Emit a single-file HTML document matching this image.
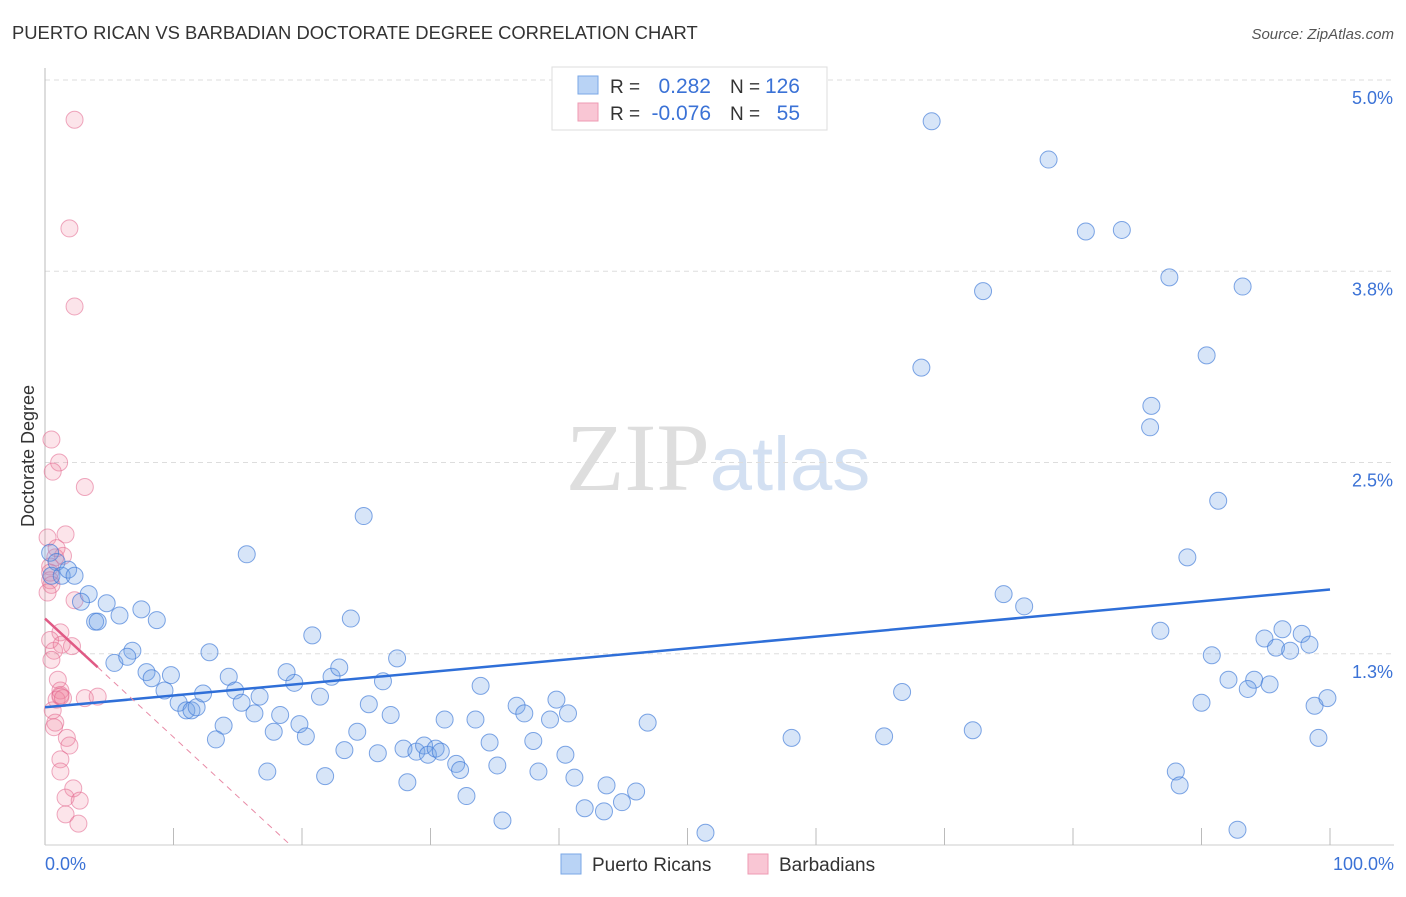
<!DOCTYPE html>
<html><head><meta charset="utf-8"><style>
body{margin:0;background:#fff;font-family:"Liberation Sans",sans-serif;}
svg text{font-family:"Liberation Sans",sans-serif;}
</style></head><body>
<svg id="chart" width="1406" height="892" xmlns="http://www.w3.org/2000/svg">
<text x="12" y="39" font-size="18.4" fill="#333">PUERTO RICAN VS BARBADIAN DOCTORATE DEGREE CORRELATION CHART</text>
<text x="1394" y="39" font-size="15" fill="#555" text-anchor="end" font-style="italic">Source: ZipAtlas.com</text>
<text x="718" y="490" font-size="96" text-anchor="middle" fill="#e4e4e4"><tspan font-family="Liberation Serif" fill="#dedede">ZIP</tspan><tspan fill="#d3e0f2" font-size="76">atlas</tspan></text>
<g id="grid"></g><g id="axes"></g><g id="marks"></g>
<text transform="translate(34,456) rotate(-90)" font-size="18" fill="#333" text-anchor="middle">Doctorate Degree</text>
<g>
<rect x="552" y="67" width="275" height="63" fill="#fff" stroke="#ddd"/>
<rect x="578" y="76" width="20" height="18" fill="#b9d3f5" stroke="#7aa7e6"/>
<rect x="578" y="103" width="20" height="18" fill="#f9c6d4" stroke="#ee9bb3"/>
<text x="610" y="93" font-size="19" fill="#333">R =</text><text x="711" y="93" font-size="21" fill="#3b72d6" text-anchor="end">0.282</text>
<text x="730" y="93" font-size="19" fill="#333">N =</text><text x="800" y="93" font-size="21" fill="#3b72d6" text-anchor="end">126</text>
<text x="610" y="120" font-size="19" fill="#333">R =</text><text x="711" y="120" font-size="21" fill="#3b72d6" text-anchor="end">-0.076</text>
<text x="730" y="120" font-size="19" fill="#333">N =</text><text x="800" y="120" font-size="21" fill="#3b72d6" text-anchor="end">55</text>
</g>
<g>
<rect x="561" y="854" width="20" height="20" fill="#b9d3f5" stroke="#7aa7e6"/>
<text x="592" y="871" font-size="19" fill="#333">Puerto Ricans</text>
<rect x="748" y="854" width="20" height="20" fill="#f9c6d4" stroke="#ee9bb3"/>
<text x="779" y="871" font-size="19" fill="#333">Barbadians</text>
</g>
</svg>
<script>
const yTicks=[1.25,2.5,3.75,5.0];
const yTickLabels=["1.3%","2.5%","3.8%","5.0%"];
const xTickLabels=["0.0%","100.0%"];
const blueX=[69.0,78.1,81.0,83.8,73.0,87.5,93.2,68.2,90.4,86.1,86.0,91.3,88.9,24.8,15.7,74.6,76.2,86.8,90.8,94.9,96.3,97.8,95.8,96.9,98.4,92.1,94.1,93.6,95.3,90.0,98.8,99.8,99.1,66.7,72.2,65.3,58.1,46.9,51.4,92.8,88.0,88.3,
0.4,0.9,0.5,1.3,1.8,2.3,3.4,2.8,4.8,3.9,4.1,5.8,7.5,8.7,6.8,5.4,6.4,7.9,8.3,9.8,9.3,10.4,11.0,11.4,11.8,12.3,12.8,14.3,14.8,16.7,15.3,16.3,13.9,13.3,18.3,17.8,19.8,20.3,19.4,18.8,20.8,22.3,22.9,23.8,21.4,23.3,24.3,25.2,26.3,26.9,27.4,25.9,28.2,27.9,28.9,29.5,29.8,30.4,30.8,31.1,32.0,32.3,32.8,33.5,33.9,34.6,35.2,35.6,36.7,37.3,38.0,38.4,39.3,39.8,40.7,40.5,41.2,42.0,43.5,43.7,44.9,46.0,21.8,17.3];
const blueY=[4.73,4.48,4.01,4.02,3.62,3.71,3.65,3.12,3.20,2.87,2.73,2.25,1.88,2.15,1.90,1.64,1.56,1.40,1.24,1.35,1.41,1.38,1.29,1.27,1.31,1.08,1.08,1.02,1.05,0.93,0.91,0.96,0.70,1.00,0.75,0.71,0.70,0.80,0.08,0.10,0.48,0.39,
1.91,1.85,1.76,1.76,1.80,1.76,1.64,1.59,1.58,1.46,1.46,1.50,1.54,1.47,1.27,1.19,1.23,1.13,1.09,1.11,1.01,0.93,0.88,0.88,0.90,0.99,1.26,1.10,1.01,0.97,0.93,0.86,0.78,0.69,0.85,0.74,0.79,0.71,1.06,1.13,1.37,1.10,1.16,1.48,0.97,0.62,0.74,0.92,1.07,0.85,1.22,0.60,0.41,0.63,0.61,0.65,0.59,0.63,0.61,0.82,0.53,0.49,0.32,0.82,1.04,0.67,0.52,0.16,0.91,0.86,0.68,0.48,0.82,0.95,0.86,0.59,0.44,0.24,0.22,0.39,0.28,0.35,0.45,0.48];
const pinkX=[2.3,1.9,2.3,0.5,1.1,0.6,3.1,1.6,0.2,1.4,0.8,0.4,0.4,0.5,0.2,2.3,1.2,0.4,0.7,2.1,0.5,1.3,1.0,1.2,1.2,0.9,1.2,1.4,0.6,0.8,0.7,3.1,4.1,1.7,1.9,1.2,1.2,2.2,1.6,2.7,1.6,2.6,0.4,0.9];
const pinkY=[4.74,4.03,3.52,2.65,2.50,2.44,2.34,2.03,2.01,1.89,1.88,1.82,1.73,1.70,1.65,1.60,1.39,1.34,1.27,1.30,1.21,1.31,1.08,1.01,0.98,0.95,0.97,0.96,0.88,0.80,0.77,0.96,0.97,0.70,0.65,0.56,0.48,0.37,0.31,0.29,0.20,0.14,1.78,1.94];
const blueTrend=[0.90,1.67];
const pinkTrend=[1.48,-0.0775];
const NS="http://www.w3.org/2000/svg";
const X0=45,X1=1330,Y0=845,YS=153;
function sx(v){return X0+(X1-X0)*v/100;}
function sy(v){return Y0-v*YS;}
function mk(tag,attrs,parent){const e=document.createElementNS(NS,tag);for(const k in attrs)e.setAttribute(k,attrs[k]);document.getElementById(parent).appendChild(e);return e;}
yTicks.forEach((t,i)=>{
 const l=mk('line',{x1:X0,x2:1394,y1:sy(t),y2:sy(t),stroke:'#ddd','stroke-dasharray':'5,4'},'grid');
 
 
 const tx=mk('text',{x:1393,y:sy(t)+24,'font-size':18,fill:'#3b72d6','text-anchor':'end'},'axes');
 tx.textContent=yTickLabels[i];
 
 
});
const ax=mk('line',{x1:X0,x2:X0,y1:68,y2:Y0,stroke:'#bbb'},'axes');


const bx=mk('line',{x1:X0,x2:1394,y1:Y0,y2:Y0,stroke:'#ccc'},'axes');


for(let i=1;i<=10;i++){const t=mk('line',{x1:sx(i*10),x2:sx(i*10),y1:Y0-17,y2:Y0,stroke:'#bbb'},'axes');
 
 }
[[0,'start',45],[100,'end',1394]].forEach((a,i)=>{const t=mk('text',{x:a[2],y:870,'font-size':18,fill:'#3b72d6','text-anchor':a[1]},'axes');t.textContent=xTickLabels[i];
 
 });
pinkX.forEach((x,i)=>{const c=mk('circle',{cx:sx(x),cy:sy(pinkY[i]),r:8.5,fill:'rgba(240,130,160,0.22)',stroke:'rgba(226,100,140,0.55)'},'marks');
 
 });
blueX.forEach((x,i)=>{const c=mk('circle',{cx:sx(x),cy:sy(blueY[i]),r:8.5,fill:'rgba(110,160,230,0.28)',stroke:'rgba(60,120,215,0.65)'},'marks');
 
 });
const bt=mk('line',{x1:sx(0),y1:sy(blueTrend[0]),x2:sx(100),y2:sy(blueTrend[1]),stroke:'#2f6fd8','stroke-width':2.5},'marks');


const xEnd=-pinkTrend[0]/pinkTrend[1];
const pd=mk('line',{x1:sx(4.1),y1:sy(pinkTrend[0]+pinkTrend[1]*4.1),x2:sx(xEnd),y2:sy(0),stroke:'#e88aa6','stroke-width':1,'stroke-dasharray':'6,5'},'marks');


const pt=mk('line',{x1:sx(0),y1:sy(pinkTrend[0]),x2:sx(4.1),y2:sy(pinkTrend[0]+pinkTrend[1]*4.1),stroke:'#e05a85','stroke-width':2.5},'marks');


</script>
</body></html>
